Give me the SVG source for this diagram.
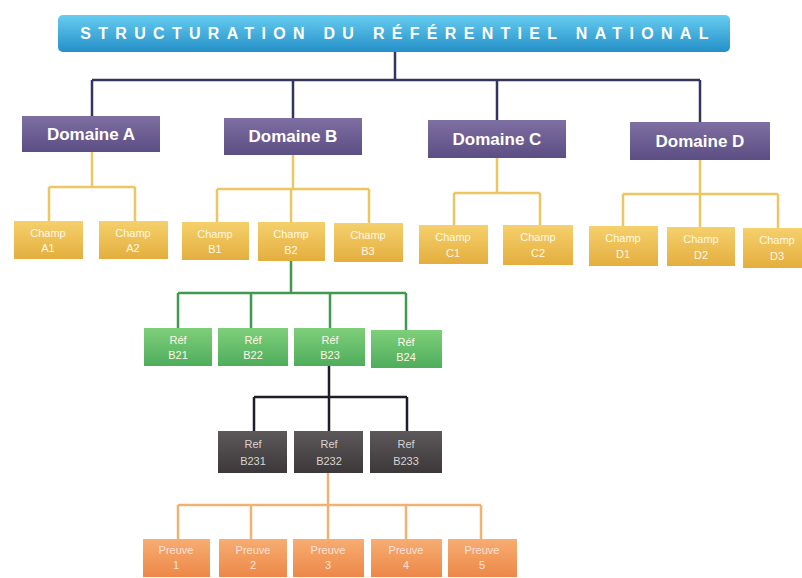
<svg xmlns="http://www.w3.org/2000/svg" width="802" height="578" viewBox="0 0 802 578">
<defs>
<linearGradient id="gTitle" x1="0" y1="0" x2="0" y2="1"><stop offset="0" stop-color="#66ccf0"/><stop offset="1" stop-color="#2590c8"/></linearGradient>
<linearGradient id="gDom" x1="0" y1="0" x2="0" y2="1"><stop offset="0" stop-color="#7f6fa3"/><stop offset="1" stop-color="#5b4e82"/></linearGradient>
<linearGradient id="gChamp" x1="0" y1="0" x2="0" y2="1"><stop offset="0" stop-color="#f5d06c"/><stop offset="1" stop-color="#e4ae3e"/></linearGradient>
<linearGradient id="gRef" x1="0" y1="0" x2="0" y2="1"><stop offset="0" stop-color="#7fcf7a"/><stop offset="1" stop-color="#4ead5c"/></linearGradient>
<linearGradient id="gDark" x1="0" y1="0" x2="0" y2="1"><stop offset="0" stop-color="#5d5859"/><stop offset="1" stop-color="#3c3839"/></linearGradient>
<linearGradient id="gPreuve" x1="0" y1="0" x2="0" y2="1"><stop offset="0" stop-color="#f7ad72"/><stop offset="1" stop-color="#ec8848"/></linearGradient>
</defs>
<style>
.t{font-family:"Liberation Sans",Arial,sans-serif;fill:#ffffff;text-anchor:middle}
.title{font-size:16px;font-weight:bold;letter-spacing:7.3px}
.dom{font-size:17px;font-weight:bold}
.sm{font-size:11px;fill:#fff8e6}
.dk{font-size:11px;fill:#d8d4d4}
.pv{font-size:11px;fill:#fbe2d6}
.ln{fill:none;stroke-width:2.5}
.navy{stroke:#34355f}
.gold{stroke:#ebc662}
.green{stroke:#3e9a4c}
.black{stroke:#1f1d2a}
.orange{stroke:#f0b274}
</style>
<rect width="802" height="578" fill="#ffffff"/>
<g id="connectors">
<path class="ln navy" d="M395 52 V80 M92 80 H700 M92 80 V116 M293 80 V118 M497 80 V120 M700 80 V122"/>
<path class="ln gold" d="M92 152 V187 M49 187 H135 M49 187 V222 M135 187 V222"/>
<path class="ln gold" d="M293 155 V189 M217 189 H369 M217 189 V222 M291 189 V222 M369 189 V223"/>
<path class="ln gold" d="M497 158 V193 M454 193 H540 M454 193 V225 M540 193 V225"/>
<path class="ln gold" d="M700 160 V194 M623 194 H778 M623 194 V226 M700 194 V227 M778 194 V228"/>
<path class="ln green" d="M291 261 V293 M178 293 H406 M178 293 V328 M251 293 V328 M330 293 V328 M406 293 V330"/>
<path class="ln black" d="M329 366 V431 M254 397 H407 M254 397 V431 M407 397 V431"/>
<path class="ln orange" d="M328 473 V539 M178 505 H481 M178 505 V539 M251 505 V539 M406 505 V539 M481 505 V539"/>
</g>
<g id="title">
<rect x="58" y="15" width="672" height="37" rx="5" fill="url(#gTitle)"/>
<text class="t title" x="398" y="39">STRUCTURATION DU RÉFÉRENTIEL NATIONAL</text>
</g>
<g id="domA"><rect x="22" y="116" width="138" height="36" fill="url(#gDom)"/><text class="t dom" x="91" y="140">Domaine A</text></g>
<g id="domB"><rect x="224" y="118" width="138" height="37" fill="url(#gDom)"/><text class="t dom" x="293" y="142">Domaine B</text></g>
<g id="domC"><rect x="428" y="120" width="138" height="38" fill="url(#gDom)"/><text class="t dom" x="497" y="145">Domaine C</text></g>
<g id="domD"><rect x="630" y="122" width="140" height="38" fill="url(#gDom)"/><text class="t dom" x="700" y="147">Domaine D</text></g>
<g id="champA1"><rect x="14" y="221" width="69" height="38" fill="url(#gChamp)"/><text class="t sm" x="48" y="237">Champ</text><text class="t sm" x="48" y="252">A1</text></g>
<g id="champA2"><rect x="99" y="221" width="69" height="38" fill="url(#gChamp)"/><text class="t sm" x="133" y="237">Champ</text><text class="t sm" x="133" y="252">A2</text></g>
<g id="champB1"><rect x="182" y="222" width="67" height="38" fill="url(#gChamp)"/><text class="t sm" x="215" y="238">Champ</text><text class="t sm" x="215" y="253">B1</text></g>
<g id="champB2"><rect x="258" y="222" width="67" height="39" fill="url(#gChamp)"/><text class="t sm" x="291" y="238">Champ</text><text class="t sm" x="291" y="254">B2</text></g>
<g id="champB3"><rect x="334" y="223" width="69" height="39" fill="url(#gChamp)"/><text class="t sm" x="368" y="239">Champ</text><text class="t sm" x="368" y="255">B3</text></g>
<g id="champC1"><rect x="419" y="225" width="69" height="39" fill="url(#gChamp)"/><text class="t sm" x="453" y="241">Champ</text><text class="t sm" x="453" y="257">C1</text></g>
<g id="champC2"><rect x="503" y="225" width="70" height="40" fill="url(#gChamp)"/><text class="t sm" x="538" y="241">Champ</text><text class="t sm" x="538" y="257">C2</text></g>
<g id="champD1"><rect x="589" y="226" width="69" height="40" fill="url(#gChamp)"/><text class="t sm" x="623" y="242">Champ</text><text class="t sm" x="623" y="258">D1</text></g>
<g id="champD2"><rect x="667" y="227" width="68" height="39" fill="url(#gChamp)"/><text class="t sm" x="701" y="243">Champ</text><text class="t sm" x="701" y="259">D2</text></g>
<g id="champD3"><rect x="743" y="228" width="65" height="40" fill="url(#gChamp)"/><text class="t sm" x="777" y="244">Champ</text><text class="t sm" x="777" y="260">D3</text></g>
<g id="refB21"><rect x="144" y="328" width="68" height="38" fill="url(#gRef)"/><text class="t sm" x="178" y="344">Réf</text><text class="t sm" x="178" y="359">B21</text></g>
<g id="refB22"><rect x="218" y="328" width="70" height="38" fill="url(#gRef)"/><text class="t sm" x="253" y="344">Réf</text><text class="t sm" x="253" y="359">B22</text></g>
<g id="refB23"><rect x="294" y="328" width="71" height="38" fill="url(#gRef)"/><text class="t sm" x="330" y="344">Réf</text><text class="t sm" x="330" y="359">B23</text></g>
<g id="refB24"><rect x="371" y="330" width="71" height="38" fill="url(#gRef)"/><text class="t sm" x="406" y="346">Réf</text><text class="t sm" x="406" y="361">B24</text></g>
<g id="refB231"><rect x="218" y="431" width="69" height="42" fill="url(#gDark)"/><text class="t dk" x="253" y="448">Ref</text><text class="t dk" x="253" y="465">B231</text></g>
<g id="refB232"><rect x="294" y="431" width="69" height="42" fill="url(#gDark)"/><text class="t dk" x="329" y="448">Ref</text><text class="t dk" x="329" y="465">B232</text></g>
<g id="refB233"><rect x="370" y="431" width="72" height="42" fill="url(#gDark)"/><text class="t dk" x="406" y="448">Ref</text><text class="t dk" x="406" y="465">B233</text></g>
<g id="preuve1"><rect x="143" y="539" width="67" height="38" fill="url(#gPreuve)"/><text class="t pv" x="176" y="554">Preuve</text><text class="t pv" x="176" y="569">1</text></g>
<g id="preuve2"><rect x="219" y="539" width="68" height="38" fill="url(#gPreuve)"/><text class="t pv" x="253" y="554">Preuve</text><text class="t pv" x="253" y="569">2</text></g>
<g id="preuve3"><rect x="293" y="539" width="71" height="38" fill="url(#gPreuve)"/><text class="t pv" x="328" y="554">Preuve</text><text class="t pv" x="328" y="569">3</text></g>
<g id="preuve4"><rect x="371" y="539" width="71" height="38" fill="url(#gPreuve)"/><text class="t pv" x="406" y="554">Preuve</text><text class="t pv" x="406" y="569">4</text></g>
<g id="preuve5"><rect x="448" y="539" width="69" height="38" fill="url(#gPreuve)"/><text class="t pv" x="482" y="554">Preuve</text><text class="t pv" x="482" y="569">5</text></g>
</svg>
